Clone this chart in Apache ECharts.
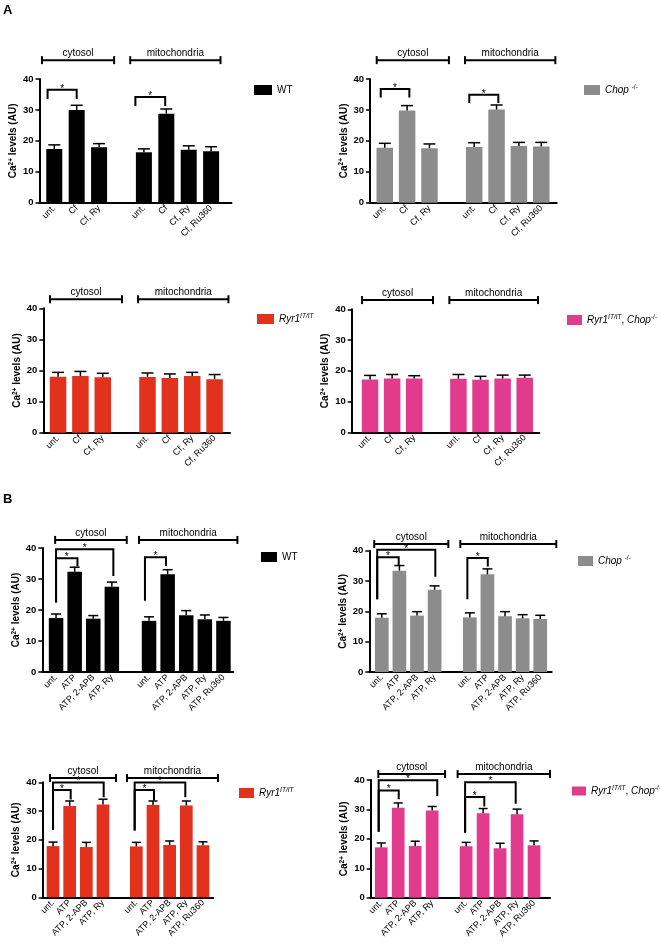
<!DOCTYPE html>
<html><head><meta charset="utf-8">
<script src="https://cdn.jsdelivr.net/npm/echarts@6/dist/echarts.min.js"></script>
<style>html,body{margin:0;padding:0;background:#fff}#c{width:660px;height:945px}</style>
</head><body><div id="c"></div>
<script>
// ---------- DATA ----------
const catsA = ['unt.', 'Cf', 'Cf, Ry', '', 'unt.', 'Cf', 'Cf, Ry', 'Cf, Ru360'];
const catsB = ['unt.', 'ATP', 'ATP, 2-APB', 'ATP, Ry', '', 'unt.', 'ATP', 'ATP, 2-APB', 'ATP, Ry', 'ATP, Ru360'];
const sectionNames = ['cytosol', 'mitochondria'];
const yTicks = [0, 10, 20, 30, 40];

const A_WT_mean   = [17.4, 30.0, 17.9, null, 16.3, 28.8, 17.1, 16.6];
const A_WT_err    = [1.3, 1.5, 1.2, null, 1.1, 1.5, 1.3, 1.5];
const A_Chop_mean = [17.8, 29.8, 17.6, null, 18.0, 30.1, 18.3, 18.2];
const A_Chop_err  = [1.4, 1.6, 1.4, null, 1.4, 1.5, 1.2, 1.3];
const A_Ryr1_mean = [18.0, 18.2, 17.8, null, 17.9, 17.6, 18.2, 17.2];
const A_Ryr1_err  = [1.4, 1.5, 1.3, null, 1.3, 1.3, 1.2, 1.5];
const A_RC_mean   = [17.2, 17.5, 17.5, null, 17.4, 17.1, 17.5, 17.7];
const A_RC_err    = [1.3, 1.3, 0.9, null, 1.4, 1.1, 1.1, 0.9];

const B_WT_mean   = [17.4, 32.3, 17.2, 27.5, null, 16.5, 31.5, 18.3, 17.0, 16.5];
const B_WT_err    = [1.3, 1.5, 1.0, 1.5, null, 1.3, 1.5, 1.5, 1.4, 1.1];
const B_Chop_mean = [17.9, 33.4, 18.6, 27.1, null, 18.0, 32.2, 18.4, 17.7, 17.5];
const B_Chop_err  = [1.3, 1.7, 1.3, 1.3, null, 1.5, 1.8, 1.5, 1.2, 1.2];
const B_Ryr1_mean = [17.8, 31.8, 17.5, 32.3, null, 17.7, 32.1, 18.2, 31.9, 18.1];
const B_Ryr1_err  = [1.4, 1.7, 1.6, 1.8, null, 1.4, 1.4, 1.4, 1.6, 1.2];
const B_RC_mean   = [17.1, 30.6, 17.6, 29.6, null, 17.5, 28.7, 16.8, 28.4, 17.8];
const B_RC_err    = [1.5, 1.6, 1.6, 1.4, null, 1.3, 1.6, 1.7, 1.7, 1.5];

// ---------- LAYOUT / STYLE ----------
const FONT = '"Liberation Sans", Arial, Helvetica, sans-serif';
const colors = { WT: '#000000', Chop: '#8c8c8c', Ryr1: '#e2311d', RC: '#e23a8c' };
const legendText = {
  WT: 'WT',
  Chop: '{i|Chop} {sup|-/-}',
  Ryr1: '{i|Ryr1}{supi|IT/IT}',
  RC: '{i|Ryr1}{supi|IT/IT}, {i|Chop}{sup|-/-}'
};

// sec: [x1, x2, yValue] for the cytosol / mitochondria brackets
// sig: [x1, x2, yTop, yBottomLeft, yBottomRight]
const panels = [
  { key: 'WT', cats: catsA, mean: A_WT_mean, err: A_WT_err,
    L: { left: 39.5, top: 79, width: 192, height: 123.7, xMin: -0.66, xMax: 7.91, barW: 16, capW: 12,
         lg: [254, 84, 18, 10],
         sec: [[-0.55, 2.67, 46.1], [3.39, 7.42, 46.1]],
         sig: [[-0.3, 1.0, 36.5, 33.5, 33.5], [3.62, 4.95, 34.2, 31.3, 31.3]] } },
  { key: 'Chop', cats: catsA, mean: A_Chop_mean, err: A_Chop_err,
    L: { left: 370, top: 79, width: 186.7, height: 123.7, xMin: -0.66, xMax: 7.69, barW: 16.5, capW: 12,
         lg: [584, 84, 16, 10],
         sec: [[-0.36, 2.87, 46.1], [3.59, 7.63, 46.1]],
         sig: [[-0.18, 1.1, 36.8, 34.0, 34.0], [3.78, 5.08, 34.9, 32.2, 32.2]] } },
  { key: 'Ryr1', cats: catsA, mean: A_Ryr1_mean, err: A_Ryr1_err,
    L: { left: 43.3, top: 308.3, width: 186.7, height: 124.4, xMin: -0.66, xMax: 7.69, barW: 16.5, capW: 12,
         lg: [257, 313, 17, 10],
         sec: [[-0.36, 2.86, 42.9], [3.58, 7.62, 42.9]],
         sig: [] } },
  { key: 'RC', cats: catsA, mean: A_RC_mean, err: A_RC_err,
    L: { left: 351.7, top: 309.3, width: 187.6, height: 123, xMin: -0.83, xMax: 7.66, barW: 16.5, capW: 12,
         lg: [567, 314, 15, 10],
         sec: [[-0.36, 2.85, 43.0], [3.59, 7.6, 43.0]],
         sig: [] } },
  { key: 'WT', cats: catsB, mean: B_WT_mean, err: B_WT_err,
    L: { left: 42.3, top: 548, width: 191, height: 124, xMin: -0.74, xMax: 9.53, barW: 14.5, capW: 10,
         lg: [261, 551, 16, 10],
         sec: [[-0.05, 3.8, 42.6], [4.46, 9.75, 42.6]],
         sig: [[0, 3.08, 39.6, 22.4, 31.0], [0, 1.15, 36.7, 22.4, 34.0], [4.78, 5.91, 37.0, 23.0, 34.2]] } },
  { key: 'Chop', cats: catsB, mean: B_Chop_mean, err: B_Chop_err,
    L: { left: 369.3, top: 550.7, width: 182.4, height: 121.3, xMin: -0.71, xMax: 9.65, barW: 13.7, capW: 10,
         lg: [578, 555, 15, 10],
         sec: [[-0.43, 3.78, 42.2], [4.46, 9.91, 42.2]],
         sig: [[-0.26, 3.04, 40.3, 24.0, 31.4], [-0.26, 0.96, 37.8, 24.0, 35.3], [4.86, 6.02, 37.6, 24.0, 34.8]] } },
  { key: 'Ryr1', cats: catsB, mean: B_Ryr1_mean, err: B_Ryr1_err,
    L: { left: 42.7, top: 782.3, width: 170.6, height: 115, xMin: -0.62, xMax: 9.62, barW: 12.7, capW: 9,
         lg: [239, 787, 15, 10],
         sec: [[-0.18, 3.78, 41.5], [4.44, 9.9, 41.5]],
         sig: [[0, 3.04, 39.9, 23.4, 34.8], [0, 1.06, 37.3, 23.4, 34.0],
               [4.9, 7.94, 39.9, 23.2, 34.8], [4.9, 6.06, 37.3, 23.2, 33.8]] } },
  { key: 'RC', cats: catsB, mean: B_RC_mean, err: B_RC_err,
    L: { left: 370.7, top: 780, width: 179.3, height: 117.7, xMin: -0.62, xMax: 9.94, barW: 12.7, capW: 9,
         lg: [572, 785, 14, 9],
         sec: [[-0.17, 3.76, 42.0], [4.5, 9.94, 42.0]],
         sig: [[-0.15, 3.3, 39.9, 22.4, 34.6], [-0.15, 1.03, 36.4, 22.4, 33.5],
               [4.94, 7.92, 39.2, 22.1, 31.9], [4.94, 6.07, 34.2, 22.1, 31.0]] } }
];

// ---------- BUILD ----------
const grid = [], xAxis = [], yAxis = [], series = [], legend = [];
panels.forEach((p, i) => {
  const L = p.L;
  grid.push({ left: L.left, top: L.top, width: L.width, height: L.height });
  const idx = p.cats.map((c, k) => (c ? k : null)).filter(v => v !== null);
  xAxis.push({
    gridIndex: i, type: 'value', min: L.xMin, max: L.xMax,
    axisLine: { onZero: false, lineStyle: { color: '#000', width: 2 } },
    axisTick: { show: false }, splitLine: { show: false },
    axisLabel: { customValues: idx, formatter: v => p.cats[Math.round(v)] || '',
                 rotate: 45, fontSize: 9, color: '#000', fontFamily: FONT, margin: 4 }
  });
  yAxis.push({
    gridIndex: i, type: 'value', min: yTicks[0], max: yTicks[yTicks.length - 1], interval: 10,
    axisLine: { show: true, onZero: false, lineStyle: { color: '#000', width: 2 } },
    axisTick: { show: true, length: 4, lineStyle: { color: '#000', width: 1.5 } },
    axisLabel: { fontSize: 9.5, fontWeight: 'bold', color: '#000', fontFamily: FONT, margin: 6 },
    splitLine: { show: false },
    name: 'Ca{sup|2+} levels (AU)', nameLocation: 'middle', nameRotate: 90, nameGap: 20,
    nameMoveOverlap: false,
    nameTextStyle: { fontSize: 10, fontWeight: 'bold', color: '#000', fontFamily: FONT, lineHeight: 12,
      rich: { sup: { fontSize: 6.5, fontWeight: 'bold', color: '#000', fontFamily: FONT, verticalAlign: 'top', lineHeight: 7 } } }
  });
  const barData = [], errData = [];
  p.mean.forEach((v, k) => {
    if (v == null) return;
    barData.push([k, v]);
    errData.push([k, v, p.err[k]]);
  });
  series.push({ type: 'bar', name: p.key, xAxisIndex: i, yAxisIndex: i, barWidth: L.barW,
                data: barData, itemStyle: { color: colors[p.key] }, silent: true });
  series.push({ type: 'custom', name: 'err' + i, xAxisIndex: i, yAxisIndex: i, clip: false, silent: true, z: 3,
    data: errData,
    renderItem: (params, api) => {
      const x = api.value(0), m = api.value(1), e = api.value(2);
      const b = api.coord([x, m]), t = api.coord([x, m + e]);
      const hw = L.capW / 2;
      return { type: 'group', children: [
        { type: 'line', shape: { x1: b[0], y1: b[1], x2: t[0], y2: t[1] }, style: { stroke: '#000', lineWidth: 1.5 } },
        { type: 'line', shape: { x1: t[0] - hw, y1: t[1], x2: t[0] + hw, y2: t[1] }, style: { stroke: '#000', lineWidth: 1.5 } }
      ] };
    }
  });
  series.push({ type: 'custom', name: 'sec' + i, xAxisIndex: i, yAxisIndex: i, clip: false, silent: true, z: 3,
    data: L.sec,
    renderItem: (params, api) => {
      const a = api.coord([api.value(0), api.value(2)]);
      const b = api.coord([api.value(1), api.value(2)]);
      const st = { stroke: '#000', lineWidth: 2 };
      return { type: 'group', children: [
        { type: 'line', shape: { x1: a[0], y1: a[1], x2: b[0], y2: b[1] }, style: st },
        { type: 'line', shape: { x1: a[0], y1: a[1] - 4, x2: a[0], y2: a[1] + 4 }, style: st },
        { type: 'line', shape: { x1: b[0], y1: b[1] - 4, x2: b[0], y2: b[1] + 4 }, style: st },
        { type: 'text', style: { text: sectionNames[params.dataIndex], x: (a[0] + b[0]) / 2, y: a[1] - 7,
            align: 'center', verticalAlign: 'middle', fontSize: 10, fontFamily: FONT, fill: '#000' } }
      ] };
    }
  });
  if (L.sig.length) {
    series.push({ type: 'custom', name: 'sig' + i, xAxisIndex: i, yAxisIndex: i, clip: false, silent: true, z: 3,
      data: L.sig,
      renderItem: (params, api) => {
        const x1 = api.value(0), x2 = api.value(1), yt = api.value(2), yb1 = api.value(3), yb2 = api.value(4);
        const p1 = api.coord([x1, yb1]), p2 = api.coord([x1, yt]), p3 = api.coord([x2, yt]), p4 = api.coord([x2, yb2]);
        return { type: 'group', children: [
          { type: 'polyline', shape: { points: [p1, p2, p3, p4] }, style: { stroke: '#000', lineWidth: 2, fill: null } },
          { type: 'text', style: { text: '*', x: (p2[0] + p3[0]) / 2, y: p2[1] - 1, align: 'center', verticalAlign: 'middle',
              fontSize: 10, fontFamily: FONT, fill: '#000' } }
        ] };
      }
    });
  }
  legend.push({
    data: [p.key], left: L.lg[0], top: L.lg[1], itemWidth: L.lg[2], itemHeight: L.lg[3], padding: 0,
    icon: 'rect', selectedMode: false,
    formatter: n => legendText[n],
    textStyle: { fontSize: 10, color: '#000', fontFamily: FONT, lineHeight: 12,
      rich: {
        i: { fontSize: 10, fontStyle: 'italic', color: '#000', fontFamily: FONT },
        sup: { fontSize: 6.5, color: '#000', fontFamily: FONT, verticalAlign: 'top', lineHeight: 7 },
        supi: { fontSize: 6.5, fontStyle: 'italic', color: '#000', fontFamily: FONT, verticalAlign: 'top', lineHeight: 7 }
      } }
  });
});

const chart = echarts.init(document.getElementById('c'), null, { renderer: 'canvas' });
chart.setOption({
  animation: false,
  backgroundColor: '#fff',
  grid, xAxis, yAxis, series, legend,
  graphic: [
    { type: 'text', left: 3, top: 4, style: { text: 'A', fontSize: 13, fontWeight: 'bold', fontFamily: FONT, fill: '#000' } },
    { type: 'text', left: 3, top: 493, style: { text: 'B', fontSize: 13, fontWeight: 'bold', fontFamily: FONT, fill: '#000' } }
  ]
});
</script></body></html>
